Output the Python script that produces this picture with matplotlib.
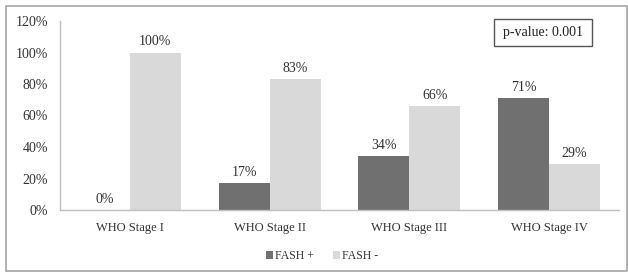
import matplotlib
matplotlib.use("Agg")
import matplotlib.pyplot as plt
from matplotlib.patches import Rectangle
import numpy as np

categories = ["WHO Stage I", "WHO Stage II", "WHO Stage III", "WHO Stage IV"]
fash_pos = [0, 17, 34, 71]
fash_neg = [100, 83, 66, 29]
series_names = ["FASH +", "FASH -"]
yticks = [0, 20, 40, 60, 80, 100, 120]
pvalue_text = "p-value: 0.001"

W, H = 628, 273
fig = plt.figure(figsize=(W / 100, H / 100), dpi=100)
plt.rcParams['font.family'] = ['Liberation Serif', 'DejaVu Serif']

ax = fig.add_axes([60 / W, 1 - 210 / H, (619 - 60) / W, (210 - 21) / H])

x = np.arange(len(categories))
bw = 0.365
c_pos = "#707070"
c_neg = "#d9d9d9"
b1 = ax.bar(x - bw / 2, fash_pos, bw, color=c_pos, label=series_names[0])
b2 = ax.bar(x + bw / 2, fash_neg, bw, color=c_neg, label=series_names[1])

for bars, vals in ((b1, fash_pos), (b2, fash_neg)):
    for rect, v in zip(bars, vals):
        ax.annotate(f"{v}%", (rect.get_x() + rect.get_width() / 2, v),
                    xytext=(0, 3), textcoords="offset points",
                    ha="center", va="bottom", fontsize=10, color="#333333")

ax.set_xlim(-0.5, len(categories) - 0.5)
ax.set_ylim(0, 120)
ax.set_yticks(yticks)
ax.set_yticklabels([f"{t}%" for t in yticks], fontsize=10, color="#333333")
ax.set_xticks(x)
ax.set_xticklabels(categories, fontsize=9, color="#333333")
ax.tick_params(axis="y", length=0, pad=8.5)
ax.tick_params(axis="x", length=0, pad=9)
for s in ("top", "right"):
    ax.spines[s].set_visible(False)
for s in ("left", "bottom"):
    ax.spines[s].set_color("#bfbfbf")
    ax.spines[s].set_linewidth(1)

fig.legend(handles=[b1, b2], labels=series_names, loc="center",
           bbox_to_anchor=(322 / W, 17 / H), ncol=2, frameon=False,
           fontsize=8.5, handlelength=0.6, handleheight=0.6,
           handletextpad=0.2, columnspacing=1.6, labelcolor="#333333")

# p-value box
fig.patches.append(Rectangle((494 / W, 1 - 46 / H), 98 / W, 27 / H,
                             transform=fig.transFigure, fill=False,
                             edgecolor="#555555", linewidth=1))
fig.text(543 / W, 1 - 32.5 / H, pvalue_text, ha="center", va="center",
         fontsize=10, color="#222222")

# outer border
fig.patches.append(Rectangle((6 / W, 1 - 271 / H), 621 / W, 265 / H,
                             transform=fig.transFigure, fill=False,
                             edgecolor="#a6a6a6", linewidth=1.2))

fig.savefig("out.png", dpi=100)
